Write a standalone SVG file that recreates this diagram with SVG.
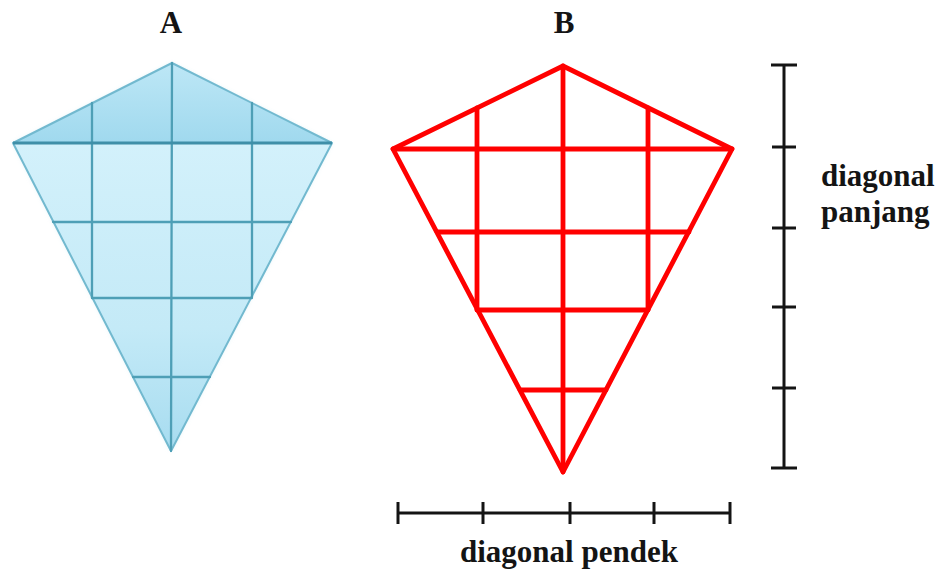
<svg xmlns="http://www.w3.org/2000/svg" width="939" height="572" viewBox="0 0 939 572">
  <defs>
    <linearGradient id="gradLower" x1="0" y1="143" x2="0" y2="451" gradientUnits="userSpaceOnUse">
      <stop offset="0" stop-color="#d3f1fb"/>
      <stop offset="0.6" stop-color="#c4eaf7"/>
      <stop offset="1" stop-color="#a7dcf0"/>
    </linearGradient>
    <linearGradient id="gradUpper" x1="0" y1="63" x2="0" y2="143" gradientUnits="userSpaceOnUse">
      <stop offset="0" stop-color="#bde7f6"/>
      <stop offset="1" stop-color="#a0d9ee"/>
    </linearGradient>
    <filter id="soft" x="-10%" y="-10%" width="120%" height="120%">
      <feGaussianBlur stdDeviation="2"/>
    </filter>
  </defs>
  <style>
    .label { font-family: "Liberation Serif", "Times New Roman", serif; font-weight: bold; font-size: 31px; fill: #141414; }
    .gridA { stroke: #4e9fb6; stroke-width: 2.3; fill: none; stroke-linecap: round; }
    .edgeA { stroke: #72b9cf; stroke-width: 2; stroke-linejoin: round; }
    .red { stroke: #ff0000; stroke-width: 4.8; fill: none; stroke-linecap: round; stroke-linejoin: round; }
    .scale { stroke: #141414; stroke-width: 3; fill: none; }
  </style>

  <g id="kite-a">
    <polygon points="172,63 332,143 171,451 13,143" fill="#bfe4f0" opacity="0.5" filter="url(#soft)"/>
    <polygon points="13,143 332,143 171,451" fill="url(#gradLower)"/>
    <polygon points="172,63 332,143 13,143" fill="url(#gradUpper)"/>
    <polygon points="172,63 332,143 171,451 13,143" fill="none" class="edgeA"/>
    <line class="gridA" x1="172" y1="63" x2="171" y2="451"/>
    <line class="gridA" x1="92" y1="103" x2="92" y2="298"/>
    <line class="gridA" x1="252" y1="103" x2="252" y2="297"/>
    <line class="gridA" x1="53" y1="222" x2="291" y2="222"/>
    <line class="gridA" x1="92" y1="298" x2="252" y2="298"/>
    <line class="gridA" x1="133" y1="377" x2="210" y2="377"/>
    <line x1="13" y1="143" x2="332" y2="143" stroke="#3f8fa8" stroke-width="3"/>
  </g>

  <g id="kite-b">
    <polygon class="red" points="563,66 732,149 563,472 393,149"/>
    <line class="red" x1="563" y1="66" x2="563" y2="472"/>
    <line class="red" x1="393" y1="149" x2="732" y2="149"/>
    <line class="red" x1="477" y1="108" x2="477" y2="310"/>
    <line class="red" x1="648" y1="108" x2="648" y2="310"/>
    <line class="red" x1="437" y1="232" x2="689" y2="232"/>
    <line class="red" x1="477" y1="310" x2="648" y2="310"/>
    <line class="red" x1="520" y1="390" x2="606" y2="390"/>
  </g>

  <g id="scale-long">
    <line class="scale" x1="784" y1="65" x2="784" y2="468"/>
    <line class="scale" x1="771" y1="65" x2="797" y2="65"/>
    <line class="scale" x1="772" y1="147" x2="796" y2="147"/>
    <line class="scale" x1="772" y1="228" x2="796" y2="228"/>
    <line class="scale" x1="772" y1="307" x2="796" y2="307"/>
    <line class="scale" x1="772" y1="388" x2="796" y2="388"/>
    <line class="scale" x1="771" y1="468" x2="797" y2="468"/>
  </g>

  <g id="scale-short">
    <line class="scale" x1="398" y1="513" x2="730" y2="513"/>
    <line class="scale" x1="398" y1="502" x2="398" y2="524"/>
    <line class="scale" x1="483" y1="502" x2="483" y2="524"/>
    <line class="scale" x1="570" y1="502" x2="570" y2="524"/>
    <line class="scale" x1="654" y1="502" x2="654" y2="524"/>
    <line class="scale" x1="730" y1="502" x2="730" y2="524"/>
  </g>

  <g id="labels">
    <text class="label" x="171" y="33" text-anchor="middle">A</text>
    <text class="label" x="564" y="33" text-anchor="middle">B</text>
    <text class="label" x="821" y="186">diagonal</text>
    <text class="label" x="821" y="222">panjang</text>
    <text class="label" x="569" y="562" text-anchor="middle">diagonal pendek</text>
  </g>
</svg>
